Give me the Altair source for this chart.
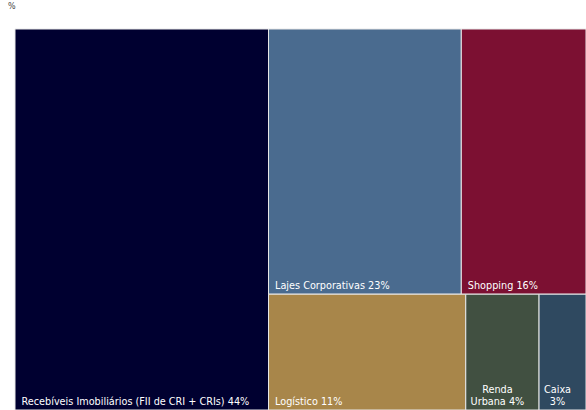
import altair as alt
import pandas as pd

# Data (share of portfolio, %)
names = ["Recebíveis Imobiliários (FII de CRI + CRIs)", "Lajes Corporativas", "Shopping",
         "Logístico", "Renda Urbana", "Caixa"]
values = [44.4, 23.5, 15.2, 10.5, 3.9, 2.5]
pct_labels = ["44%", "23%", "16%", "11%", "4%", "3%"]
colors = ["#000030", "#4a6b8f", "#7c1032", "#a8864a", "#415041", "#2f4960"]

W, H = 571, 381
RATIO = 1.2


def squarify(vals, x0, y0, x1, y1, ratio):
    """d3-style squarified treemap (treemapSquarify.ratio)."""
    rects = [None] * len(vals)
    n = len(vals)
    value = float(sum(vals))
    i0 = i1 = 0
    while i0 < n:
        dx, dy = x1 - x0, y1 - y0
        sum_v = vals[i1]
        i1 += 1
        min_v = max_v = sum_v
        alpha = max(dy / dx, dx / dy) / (value * ratio)
        beta = sum_v * sum_v * alpha
        min_ratio = max(max_v / beta, beta / min_v)
        while i1 < n:
            nv = vals[i1]
            s2 = sum_v + nv
            mn, mx = min(min_v, nv), max(max_v, nv)
            beta = s2 * s2 * alpha
            new_ratio = max(mx / beta, beta / mn)
            if new_ratio > min_ratio:
                break
            sum_v, min_v, max_v, min_ratio = s2, mn, mx, new_ratio
            i1 += 1
        idx = list(range(i0, i1))
        if dx < dy:  # dice: row across the top
            ny = y0 + dy * sum_v / value
            cx = x0
            for i in idx:
                w = (x1 - x0) * vals[i] / sum_v
                rects[i] = (cx, y0, cx + w, ny)
                cx += w
            y0 = ny
        else:  # slice: column on the left
            nx = x0 + dx * sum_v / value
            cy = y0
            for i in idx:
                h = (y1 - y0) * vals[i] / sum_v
                rects[i] = (x0, cy, nx, cy + h)
                cy += h
            x0 = nx
        value -= sum_v
        i0 = i1
    return rects


rects = squarify(values, 0, 0, W, H, RATIO)

rows = []
for n, v, p, c, (x0, y0, x1, y1) in zip(names, values, pct_labels, colors, rects):
    full = f"{n} {p}"
    est = len(full) * 5.0
    multi = est > (x1 - x0) - 10
    if multi:
        words = full.split(" ")
        label = words[0] + "\n" + " ".join(words[1:])
    else:
        label = full
    rows.append(dict(name=n, value=v, label=label, color=c, multi=multi,
                     x0=x0, x1=x1, y0=y0, y1=y1, xc=(x0 + x1) / 2))
df = pd.DataFrame(rows)

xs = alt.Scale(domain=[0, W])
ys = alt.Scale(domain=[0, H], reverse=True)

rect = alt.Chart(df).mark_rect(stroke="#e8e8e8", strokeWidth=1).encode(
    x=alt.X("x0:Q", scale=xs, axis=None),
    x2="x1:Q",
    y=alt.Y("y0:Q", scale=ys, axis=None),
    y2="y1:Q",
    color=alt.Color("name:N", scale=alt.Scale(domain=names, range=colors), legend=None),
    tooltip=["name:N", "value:Q"],
)

single = alt.Chart(df).transform_filter("!datum.multi").mark_text(
    align="left", baseline="bottom", dx=6.5, dy=-3.5, font="DejaVu Sans",
    fontSize=9.7, color="white", lineBreak="\n", lineHeight=12,
).encode(
    x=alt.X("x0:Q", scale=xs, axis=None),
    y=alt.Y("y1:Q", scale=ys, axis=None),
    text="label:N",
)

multi = alt.Chart(df).transform_filter("datum.multi").mark_text(
    align="center", baseline="bottom", dx=-5, dy=-15.5, font="DejaVu Sans",
    fontSize=9.7, color="white", lineBreak="\n", lineHeight=12,
).encode(
    x=alt.X("xc:Q", scale=xs, axis=None),
    y=alt.Y("y1:Q", scale=ys, axis=None),
    text="label:N",
)

chart = alt.layer(rect, single, multi).properties(
    width=W, height=H,
    autosize=alt.AutoSizeParams(type="none"),
    padding={"left": 15, "top": 29, "right": 0, "bottom": 0},
    title=alt.TitleParams("%", anchor="start", frame="group", dx=-7, offset=18,
                          fontSize=8, font="DejaVu Sans", fontWeight="normal", color="#444444"),
).configure_view(strokeWidth=0)

chart.save("out.html", embed_options={"renderer": "svg", "actions": False})
